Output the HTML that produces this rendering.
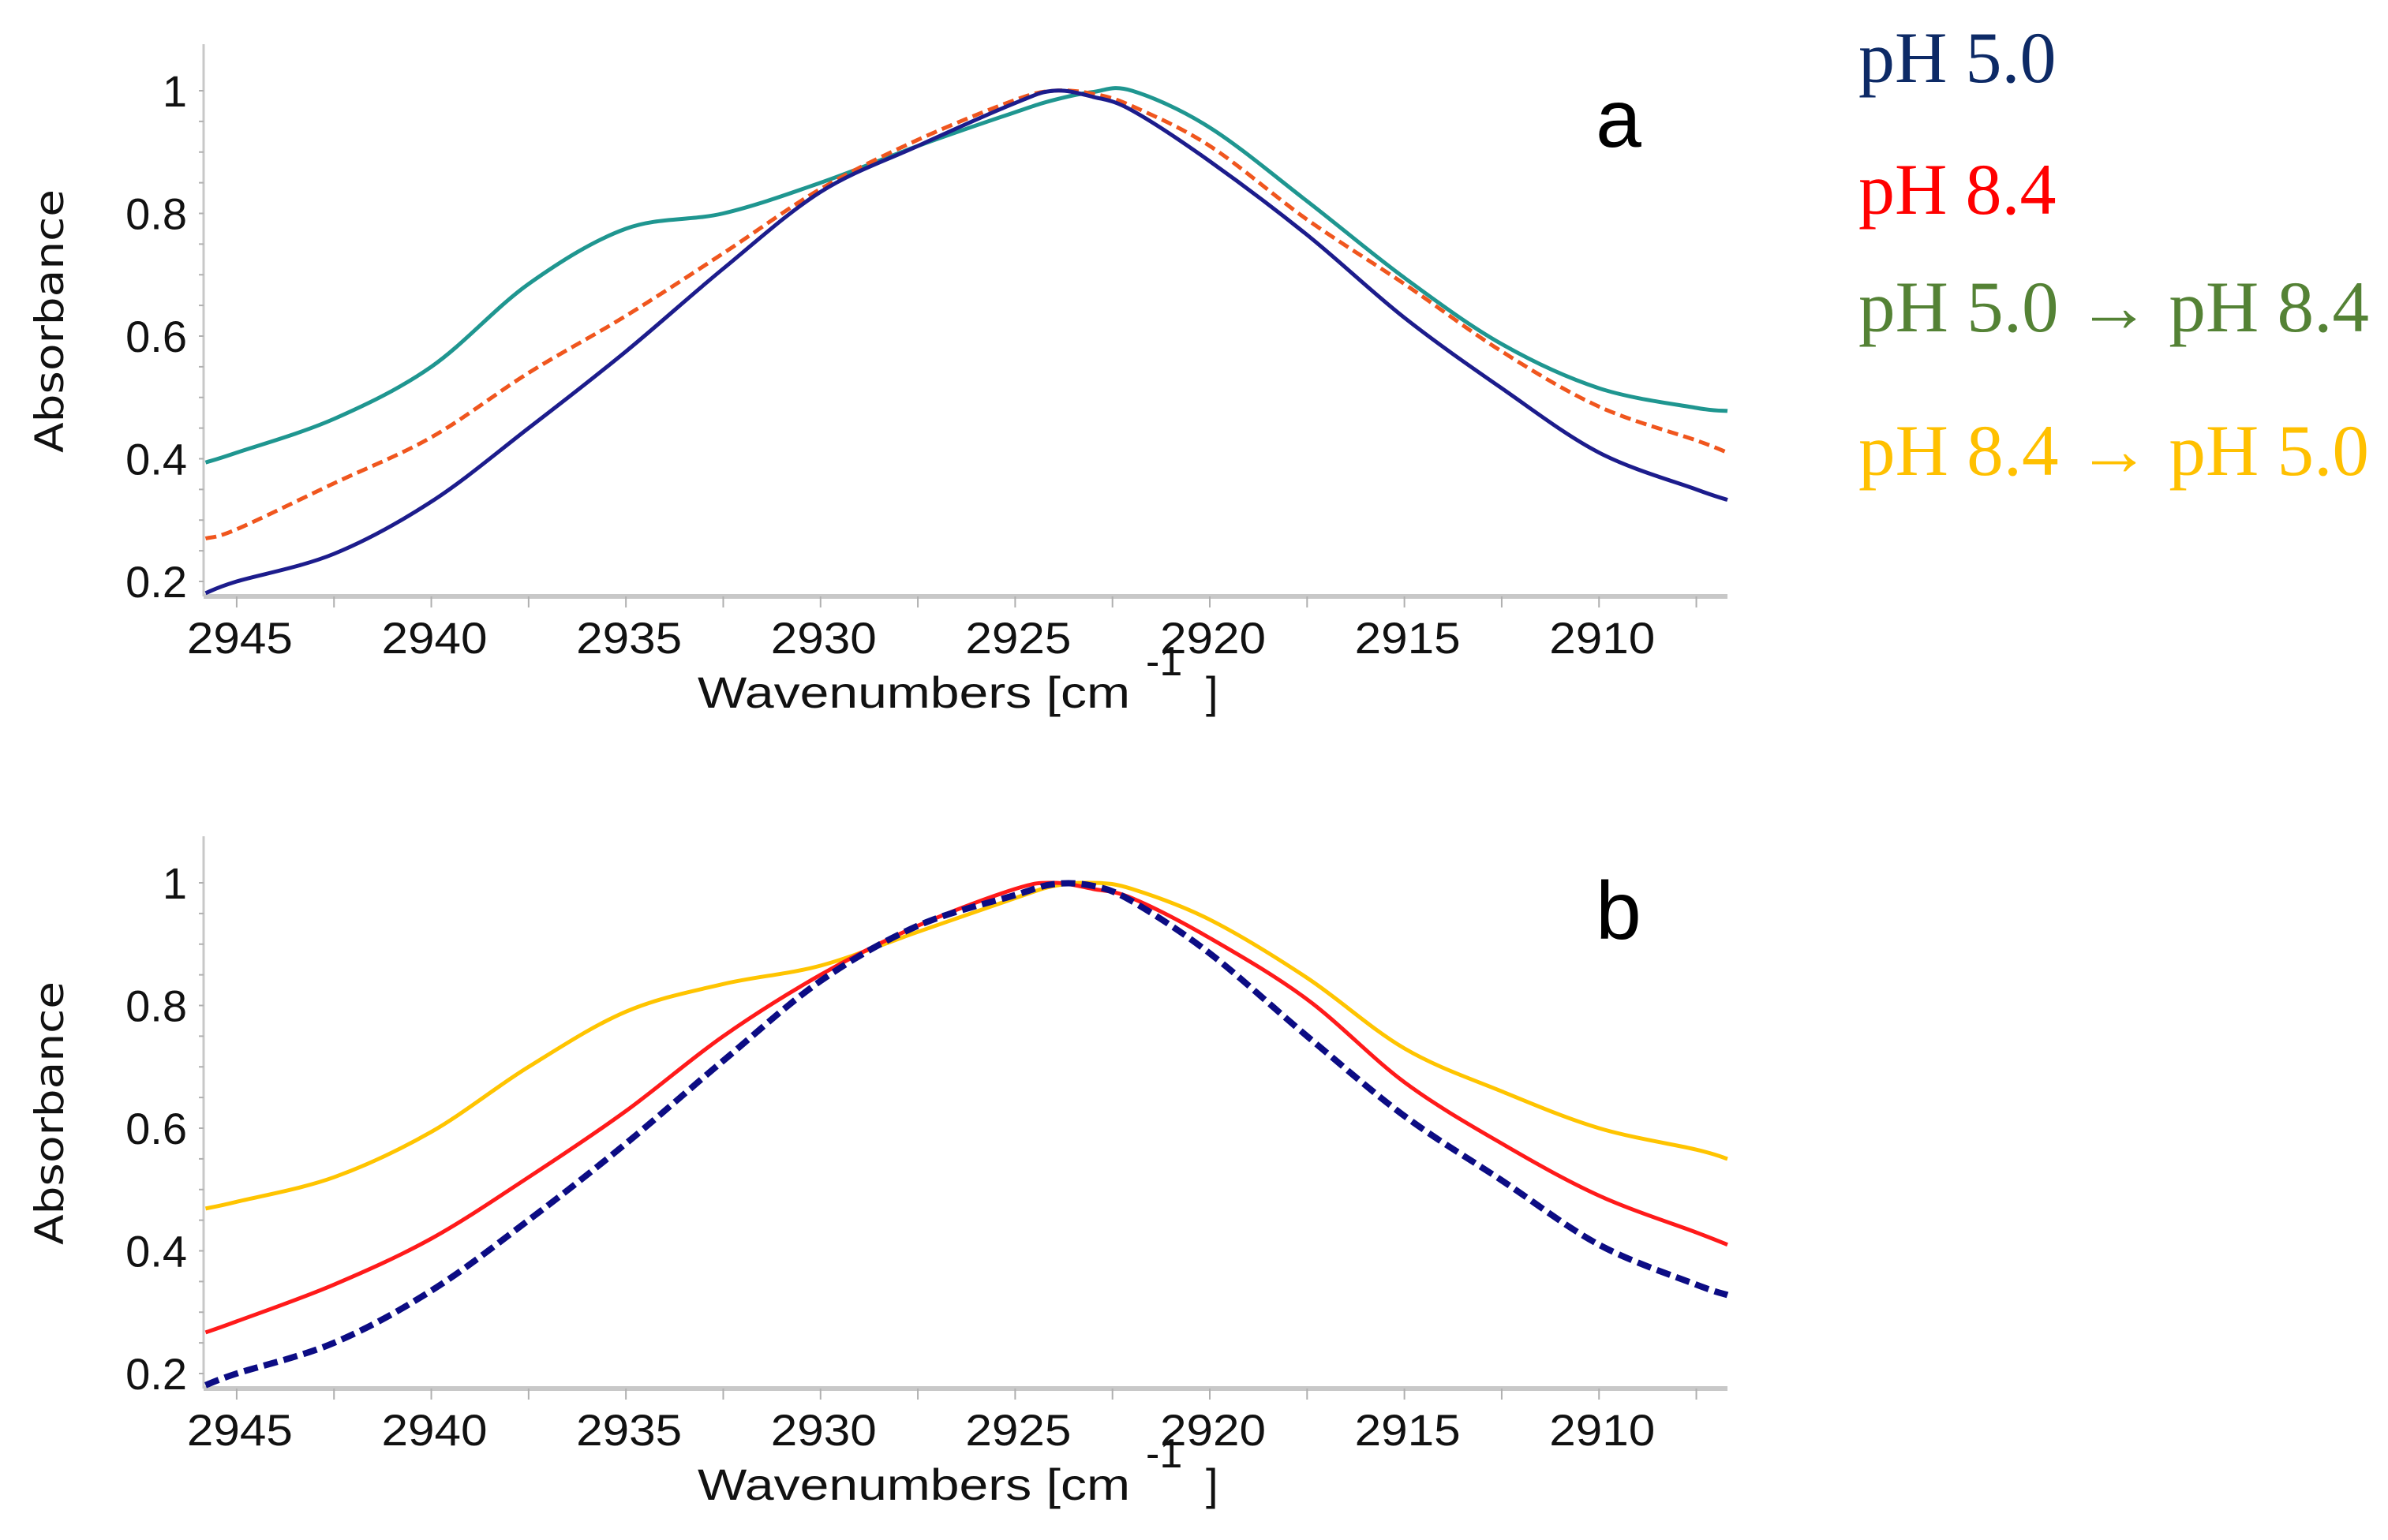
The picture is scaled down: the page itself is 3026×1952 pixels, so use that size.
<!DOCTYPE html>
<html><head><meta charset="utf-8"><style>
html,body{margin:0;padding:0;background:#fff;}
svg{display:block;}
</style></head><body>
<svg id="fig" width="3026" height="1952" viewBox="0 0 3026 1952" xmlns="http://www.w3.org/2000/svg">
  <g id="legend" font-family="Liberation Serif, serif" font-size="92">
    <text x="2355" y="104" fill="#0d2a66">pH 5.0</text>
    <text x="2355" y="271" fill="#ff0000">pH 8.4</text>
    <text x="2355" y="420" fill="#548235" textLength="647" lengthAdjust="spacingAndGlyphs">pH 5.0 → pH 8.4</text>
    <text x="2355" y="602" fill="#ffc000" textLength="647" lengthAdjust="spacingAndGlyphs">pH 8.4 → pH 5.0</text>
  </g>
</svg>
<script>
const wavenumbers = [2945.8,2945,2942.5,2940,2937.5,2935,2932.5,2930,2927.5,2925,2924,2923,2922,2920,2917.5,2915,2912.5,2910,2907.5,2906.7];
const aPh50 = [0.181,0.20,0.245,0.33,0.45,0.575,0.71,0.835,0.91,0.98,1.0,0.99,0.968,0.885,0.765,0.63,0.515,0.41,0.35,0.333];
const aPh84 = [0.27,0.285,0.36,0.435,0.54,0.633,0.735,0.84,0.92,0.985,1.0,0.995,0.975,0.91,0.79,0.685,0.575,0.485,0.43,0.41];
const aPh50to84 = [0.394,0.41,0.465,0.55,0.685,0.775,0.80,0.85,0.91,0.965,0.985,0.998,1.0,0.94,0.82,0.695,0.587,0.515,0.483,0.478];
const bPh84 = [0.267,0.285,0.345,0.42,0.52,0.628,0.75,0.85,0.93,0.99,1.0,0.99,0.975,0.91,0.81,0.675,0.575,0.49,0.43,0.41];
const bPh84to50 = [0.469,0.48,0.52,0.594,0.70,0.79,0.835,0.865,0.92,0.975,0.995,1.0,0.99,0.94,0.845,0.73,0.66,0.60,0.565,0.55];
const bPh50 = [0.181,0.20,0.25,0.335,0.45,0.575,0.71,0.84,0.93,0.98,0.998,0.995,0.97,0.885,0.75,0.62,0.515,0.41,0.345,0.328];
const xTickLabels = [2945,2940,2935,2930,2925,2920,2915,2910];
const yTickLabels = [0.2,0.4,0.6,0.8,1];

const NS = "http://www.w3.org/2000/svg";
const svg = document.getElementById('fig');
const X0 = 258, X1 = 2189, W0 = 2945.85, W1 = 2906.7;
function xs(w){ return X0 + (W0 - w) / (W0 - W1) * (X1 - X0); }
function mk(tag, attrs, parent){ const e = document.createElementNS(NS, tag); for (const k in attrs) e.setAttribute(k, attrs[k]); parent.appendChild(e); return e; }
function smoothPath(pts){
  let d = 'M' + pts[0][0].toFixed(1) + ',' + pts[0][1].toFixed(1);
  for (let i = 0; i < pts.length - 1; i++){
    const p0 = pts[Math.max(i-1,0)], p1 = pts[i], p2 = pts[i+1], p3 = pts[Math.min(i+2,pts.length-1)];
    const c1 = [p1[0] + (p2[0]-p0[0])/6, p1[1] + (p2[1]-p0[1])/6];
    const c2 = [p2[0] - (p3[0]-p1[0])/6, p2[1] - (p3[1]-p1[1])/6];
    d += ' C' + c1[0].toFixed(1) + ',' + c1[1].toFixed(1) + ' ' + c2[0].toFixed(1) + ',' + c2[1].toFixed(1) + ' ' + p2[0].toFixed(1) + ',' + p2[1].toFixed(1);
  }
  return d;
}
function panel(off, name, letter, series){
  const ys = v => off + 115 + (1 - v) * 777.5;
  const g = mk('g', {}, svg);
  
  
  const yAxis = mk('line', {x1:X0, y1:off+56, x2:X0, y2:off+756, stroke:'#c8c8c8', 'stroke-width':3}, g);
  
  
  const xAxis = mk('line', {x1:X0, y1:off+756, x2:X1, y2:off+756, stroke:'#c8c8c8', 'stroke-width':6}, g);
  
  
  for (let w = 2945; w >= 2907; w -= 2.5){
    const t = mk('line', {x1:xs(w), y1:off+756, x2:xs(w), y2:off+770, stroke:'#b0b0b0', 'stroke-width':2}, g);
    
    
  }
  for (let v = 0.2; v <= 1.05; v += 0.05){
    const t = mk('line', {x1:X0-6, y1:ys(v), x2:X0, y2:ys(v), stroke:'#b0b0b0', 'stroke-width':2}, g);
    
    
  }
  xTickLabels.forEach(w => {
    const t = mk('text', {x:xs(w)+4, y:off+828, 'text-anchor':'middle', 'font-family':'Liberation Sans, sans-serif', 'font-size':56, fill:'#111', textLength:134, lengthAdjust:'spacingAndGlyphs'}, g);
    t.textContent = String(w);
    
    
  });
  yTickLabels.forEach(v => {
    const t = mk('text', {x:237, y:ys(v)+20, 'text-anchor':'end', 'font-family':'Liberation Sans, sans-serif', 'font-size':56, fill:'#111'}, g);
    t.textContent = String(v);
    
    
  });
  const yt = mk('text', {x:0, y:0, transform:'translate(80,' + (off+407) + ') rotate(-90)', 'text-anchor':'middle', 'font-family':'DejaVu Sans, sans-serif', 'font-size':50, fill:'#111', textLength:334, lengthAdjust:'spacingAndGlyphs'}, g);
  yt.textContent = 'Absorbance';
  
  
  const xt = mk('text', {x:884, y:off+897, 'font-family':'Liberation Sans, sans-serif', 'font-size':56, fill:'#111', textLength:548, lengthAdjust:'spacingAndGlyphs'}, g);
  xt.textContent = 'Wavenumbers [cm';
  
  
  const sup = mk('text', {x:1452, y:off+856, 'font-family':'Liberation Sans, sans-serif', 'font-size':52, fill:'#111'}, g);
  sup.textContent = '-1';
  
  
  const br = mk('text', {x:1528, y:off+897, 'font-family':'Liberation Sans, sans-serif', 'font-size':56, fill:'#111'}, g);
  br.textContent = ']';
  
  
  const pl = mk('text', {x:2022, y:off+186, 'font-family':'Liberation Sans, sans-serif', 'font-size':104, fill:'#000'}, g);
  pl.textContent = letter;
  
  
  series.forEach(s => {
    const pts = wavenumbers.map((w,i) => [xs(w), ys(s.vals[i])]);
    const p = mk('path', {d:smoothPath(pts), fill:'none', stroke:s.color, 'stroke-width':s.w, 'stroke-linejoin':'round'}, g);
    if (s.dash) p.setAttribute('stroke-dasharray', s.dash);
    
    
  });
}
panel(0, 'panel-a', 'a', [
  {vals:aPh50to84, color:'#1f9690', w:5, name:'line-a-ph50-to-ph84'},
  {vals:aPh84, color:'#f0561e', w:5, dash:'14 7', name:'line-a-ph84'},
  {vals:aPh50, color:'#1c1c8c', w:5, name:'line-a-ph50'}
]);
panel(1004, 'panel-b', 'b', [
  {vals:bPh84to50, color:'#ffc400', w:5, name:'line-b-ph84-to-ph50'},
  {vals:bPh84, color:'#ff1a1a', w:5, name:'line-b-ph84'},
  {vals:bPh50, color:'#0c0c84', w:8, dash:'18 8', name:'line-b-ph50'}
]);
</script>
</body></html>
